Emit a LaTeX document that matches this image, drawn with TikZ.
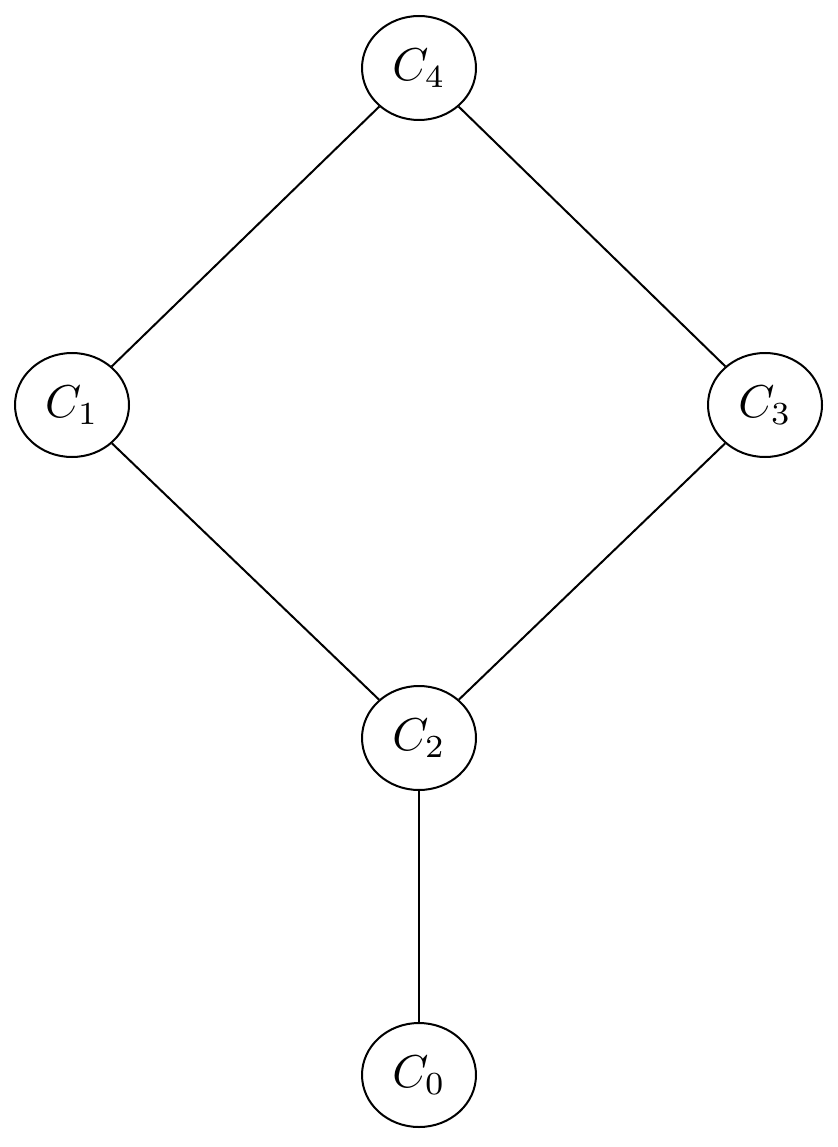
\documentclass[tikz,border=0pt]{standalone}
\usepackage{graphicx}
\usetikzlibrary{shapes.geometric}
\newcommand{\biglab}[1]{\scalebox{4.6}{$#1$}}
\begin{document}
\begin{tikzpicture}[x=1pt,y=-1pt,
  cnode/.style={draw,ellipse,line width=2pt,minimum width=114pt,minimum height=104pt,inner sep=0pt},
  edge/.style={line width=2pt}]
\useasboundingbox (0,0) rectangle (837,1147);
\node[cnode] (c4) at (419,68) {\biglab{C_4}};
\node[cnode] (c1) at (72,405) {\biglab{C_1}};
\node[cnode] (c3) at (765,405) {\biglab{C_3}};
\node[cnode] (c2) at (419,738) {\biglab{C_2}};
\node[cnode] (c0) at (419,1075) {\biglab{C_0}};
\draw[edge] (c4) -- (c1);
\draw[edge] (c4) -- (c3);
\draw[edge] (c1) -- (c2);
\draw[edge] (c3) -- (c2);
\draw[edge] (c2) -- (c0);
\end{tikzpicture}
\end{document}
